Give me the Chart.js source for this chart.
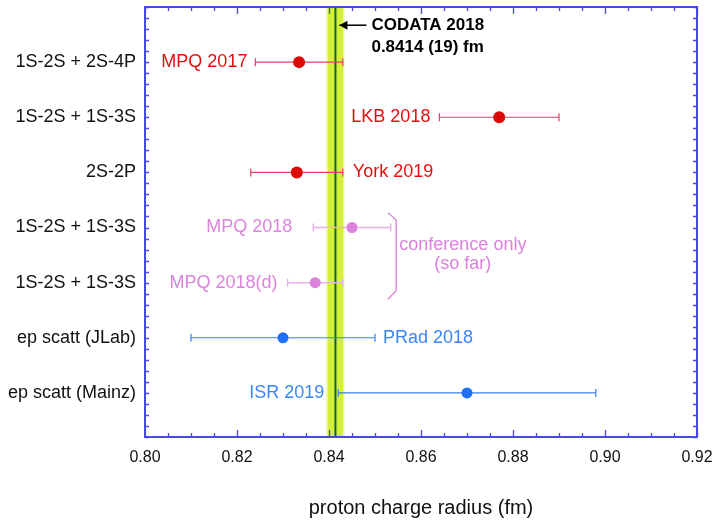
<!doctype html>
<html lang="en">
<head>
<meta charset="UTF-8">
<title>Proton charge radius</title>
<style>
  html, body { margin:0; padding:0; background:#fff; }
  #wrap { width:714px; height:520px; }
</style>
</head>
<body>
<div id="wrap"><canvas id="chart"></canvas></div>
<script src="https://cdn.jsdelivr.net/npm/chart.js@4.4.0/dist/chart.umd.min.js"></script>
<script>
// rows, top to bottom
var rowLabels = ['1S-2S + 2S-4P', '1S-2S + 1S-3S', '2S-2P', '1S-2S + 1S-3S', '1S-2S + 1S-3S', 'ep scatt (JLab)', 'ep scatt (Mainz)'];
var rowValues = [7, 6, 5, 4, 3, 2, 1];
var expNames  = ['MPQ 2017', 'LKB 2018', 'York 2019', 'MPQ 2018', 'MPQ 2018(d)', 'PRad 2018', 'ISR 2019'];
var radius    = [0.8335, 0.877, 0.833, 0.845, 0.837, 0.830, 0.870];
var errMinus  = [0.0095, 0.013, 0.010, 0.0084, 0.006, 0.020, 0.028];
var errPlus   = [0.0095, 0.013, 0.010, 0.0084, 0.006, 0.020, 0.028];
var groupOf   = ['hydrogen', 'hydrogen', 'hydrogen', 'conf', 'conf', 'scatt', 'scatt'];

var codataValue = 0.8414;
var codataErr = 0.0019;
var codataText = ['CODATA 2018', '0.8414 (19) fm'];
var braceText = ['conference only', '(so far)'];

var xTickValues = [0.80, 0.82, 0.84, 0.86, 0.88, 0.90, 0.92];
var xTitle = 'proton charge radius (fm)';

var FONT = '"Liberation Sans", Arial, Helvetica, sans-serif';

var groups = {
  hydrogen: { dot: '#dd0808', bar: '#e4406a', text: '#e01010', r: 6 },
  conf:     { dot: '#dc84dc', bar: '#e8b2e8', text: '#dc84dc', r: 5.5 },
  scatt:    { dot: '#1f6ff7', bar: '#3a80f0', text: '#3a86f5', r: 5.5 }
};
// which side of the error bar each name sits, and the gap in px
var labelPlace = [['left', 8], ['left', 9], ['right', 10], ['left', 21], ['left', 10], ['right', 8], ['left', 14]];

function makeDataset(g) {
  var pts = [];
  for (var i = 0; i < radius.length; i++) {
    if (groupOf[i] === g) pts.push({ x: radius[i], y: rowValues[i], i: i });
  }
  return {
    label: g,
    data: pts,
    pointRadius: groups[g].r,
    pointBackgroundColor: groups[g].dot,
    pointBorderWidth: 0,
    showLine: false
  };
}

var extras = {
  id: 'extras',
  beforeDatasetsDraw: function(chart) {
    var ctx = chart.ctx, a = chart.chartArea;
    var xs = chart.scales.x, ys = chart.scales.y;
    ctx.save();
    // CODATA band
    var b0 = xs.getPixelForValue(codataValue - codataErr);
    var b1 = xs.getPixelForValue(codataValue + codataErr);
    ctx.fillStyle = '#d4f03a';
    ctx.fillRect(b0, a.top, b1 - b0, a.bottom - a.top);
    ctx.strokeStyle = '#eef8b4';
    ctx.lineWidth = 1;
    ctx.beginPath();
    ctx.moveTo(b0 + 0.5, a.top); ctx.lineTo(b0 + 0.5, a.bottom);
    ctx.moveTo(b1 - 0.5, a.top); ctx.lineTo(b1 - 0.5, a.bottom);
    ctx.stroke();
    var cx = xs.getPixelForValue(codataValue);
    ctx.strokeStyle = '#0b6a1c';
    ctx.lineWidth = 2;
    ctx.beginPath();
    ctx.moveTo(cx, a.top); ctx.lineTo(cx, a.bottom);
    ctx.stroke();

    // error bars
    for (var i = 0; i < radius.length; i++) {
      var g = groups[groupOf[i]];
      var y = ys.getPixelForValue(rowValues[i]);
      var x0 = xs.getPixelForValue(radius[i] - errMinus[i]);
      var x1 = xs.getPixelForValue(radius[i] + errPlus[i]);
      ctx.strokeStyle = g.bar;
      ctx.lineWidth = groupOf[i] === 'conf' ? 1.5 : 1.2;
      ctx.beginPath();
      ctx.moveTo(x0, y); ctx.lineTo(x1, y);
      ctx.moveTo(x0, y - 4); ctx.lineTo(x0, y + 4);
      ctx.moveTo(x1, y - 4); ctx.lineTo(x1, y + 4);
      ctx.stroke();
    }
    ctx.restore();
  },
  afterDatasetsDraw: function(chart) {
    var ctx = chart.ctx, a = chart.chartArea;
    var xs = chart.scales.x, ys = chart.scales.y;
    ctx.save();
    ctx.textBaseline = 'middle';
    ctx.font = '18px ' + FONT;
    for (var i = 0; i < expNames.length; i++) {
      var g = groups[groupOf[i]];
      var y = ys.getPixelForValue(rowValues[i]);
      ctx.fillStyle = g.text;
      if (labelPlace[i][0] === 'left') {
        ctx.textAlign = 'right';
        ctx.fillText(expNames[i], xs.getPixelForValue(radius[i] - errMinus[i]) - labelPlace[i][1], y);
      } else {
        ctx.textAlign = 'left';
        ctx.fillText(expNames[i], xs.getPixelForValue(radius[i] + errPlus[i]) + labelPlace[i][1], y);
      }
    }

    // CODATA arrow + text
    var cx = xs.getPixelForValue(codataValue);
    var ay = ys.getPixelForValue(7.67);
    ctx.strokeStyle = '#000';
    ctx.fillStyle = '#000';
    ctx.lineWidth = 1.5;
    ctx.beginPath();
    ctx.moveTo(cx + 4, ay); ctx.lineTo(cx + 31, ay);
    ctx.stroke();
    ctx.beginPath();
    ctx.moveTo(cx + 4, ay); ctx.lineTo(cx + 12, ay - 4.5); ctx.lineTo(cx + 12, ay + 4.5);
    ctx.closePath();
    ctx.fill();
    ctx.font = 'bold 17px ' + FONT;
    ctx.textAlign = 'left';
    ctx.fillText(codataText[0], cx + 36, ay);
    ctx.fillText(codataText[1], cx + 36, ay + 22);

    // brace for conference results
    ctx.strokeStyle = '#dc7ddc';
    ctx.lineWidth = 1.3;
    var bxo = xs.getPixelForValue(0.8528), bxi = xs.getPixelForValue(0.8546);
    ctx.beginPath();
    ctx.moveTo(bxo, ys.getPixelForValue(4.27));
    ctx.lineTo(bxi, ys.getPixelForValue(4.135));
    ctx.lineTo(bxi, ys.getPixelForValue(2.855));
    ctx.lineTo(bxo, ys.getPixelForValue(2.70));
    ctx.stroke();
    ctx.fillStyle = '#dc80dc';
    ctx.font = '18px ' + FONT;
    ctx.textAlign = 'center';
    var tx = xs.getPixelForValue(0.8691);
    ctx.fillText(braceText[0], tx, ys.getPixelForValue(3.69));
    ctx.fillText(braceText[1], tx, ys.getPixelForValue(3.33));

    // frame and inward ticks
    ctx.strokeStyle = '#4848e4';
    ctx.lineWidth = 2;
    ctx.strokeRect(a.left, a.top, a.right - a.left, a.bottom - a.top);
    ctx.lineWidth = 1.3;
    ctx.beginPath();
    for (var k = 0; k <= 24; k++) {
      var px = Math.round(xs.getPixelForValue(0.80 + k * 0.005)) + 0.5;
      var len = (k % 4 === 0) ? 7 : 4;
      ctx.moveTo(px, a.bottom); ctx.lineTo(px, a.bottom - len);
      ctx.moveTo(px, a.top); ctx.lineTo(px, a.top + len);
    }
    for (var j = 0; j <= 39; j++) {
      var py = Math.round(ys.getPixelForValue(0.2 + j * 0.2)) + 0.5;
      ctx.moveTo(a.left, py); ctx.lineTo(a.left + 4, py);
      ctx.moveTo(a.right, py); ctx.lineTo(a.right - 4, py);
    }
    ctx.stroke();
    ctx.restore();
  }
};

new Chart(document.getElementById('chart'), {
  type: 'scatter',
  data: { datasets: [makeDataset('hydrogen'), makeDataset('conf'), makeDataset('scatt')] },
  options: {
    responsive: true,
    maintainAspectRatio: false,
    animation: false,
    devicePixelRatio: 1,
    layout: { padding: { top: 7, right: 17, left: 0, bottom: 0 } },
    scales: {
      x: {
        type: 'linear',
        min: 0.80,
        max: 0.92,
        afterBuildTicks: function(s) { s.ticks = xTickValues.map(function(v) { return { value: v }; }); },
        afterFit: function(s) { s.height = 83; s.paddingLeft = 0; s.paddingRight = 0; },
        ticks: {
          callback: function(v) { return v.toFixed(2); },
          font: { family: FONT, size: 16 },
          color: '#111',
          padding: 11,
          maxRotation: 0,
          autoSkip: false
        },
        grid: { display: false, drawTicks: false },
        border: { display: false },
        title: {
          display: true,
          text: xTitle,
          font: { family: FONT, size: 20 },
          color: '#111',
          padding: { top: 0, bottom: 0 }
        }
      },
      y: {
        type: 'linear',
        min: 0.2,
        max: 8,
        afterBuildTicks: function(s) { s.ticks = rowValues.map(function(v) { return { value: v }; }); },
        afterFit: function(s) { s.width = 145; s.paddingTop = 0; s.paddingBottom = 0; },
        ticks: {
          callback: function(v, idx) { return rowLabels[idx]; },
          font: { family: FONT, size: 18 },
          color: '#111',
          padding: 9,
          autoSkip: false
        },
        grid: { display: false, drawTicks: false },
        border: { display: false }
      }
    },
    plugins: {
      legend: { display: false },
      tooltip: { enabled: false }
    }
  },
  plugins: [extras]
});
</script>
</body>
</html>
